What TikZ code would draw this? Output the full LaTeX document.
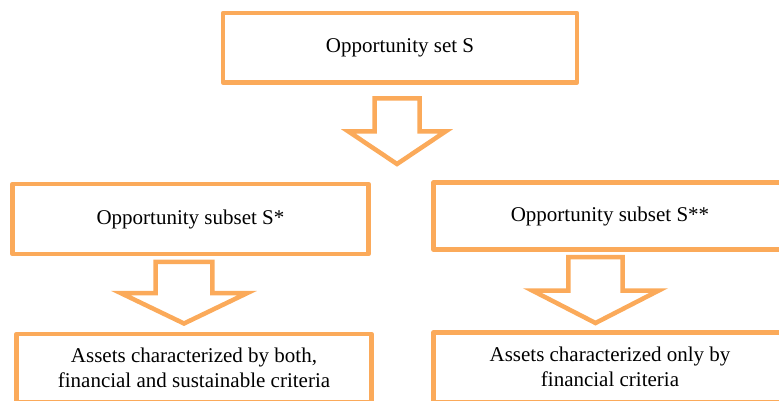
\documentclass[tikz,border=0pt]{standalone}
\usepackage{fontspec}
\setmainfont{Liberation Serif}
\usepackage{tikz}
\definecolor{boxorange}{RGB}{251,170,90}
\tikzset{setbox/.style={draw=boxorange, line width=4.5pt, line join=round, fill=white,
    inner sep=0pt, align=center, font=\fontsize{21}{25}\selectfont},
  blockarrow/.style={draw=boxorange, line width=4.5pt, line join=miter, fill=white}}
\newcommand{\downblock}[6]{%
  \draw[blockarrow] (#1-#2,#4) -- (#1+#2,#4) -- (#1+#2,#5) -- (#1+#3,#5)
    -- (#1,#6) -- (#1-#3,#5) -- (#1-#2,#5) -- cycle;}

\begin{document}
\begin{tikzpicture}[x=1pt, y=-1pt]
			\useasboundingbox (0,0) rectangle (779,401);
			\clip (0,0) rectangle (779,401);
				\node (S) 		[setbox, minimum width=354pt, minimum height=69.5pt] at (400,47.75)	{Opportunity set S};
				\node (Sa) 		[setbox, minimum width=356pt, minimum height=70pt] at (190.5,219)	{Opportunity subset S*};
				\node (Sb) 		[setbox, minimum width=353pt, minimum height=67pt] at (610,216.2)	{Opportunity subset S**};
				\node (Aa) 		[setbox, minimum width=355pt, minimum height=68pt] at (194,368)	{Assets characterized by both,\\ financial and sustainable criteria};
				\node (Ab) 		[setbox, minimum width=353pt, minimum height=69.5pt] at (610,367.3)	{Assets characterized only by\\ financial criteria};
			  \downblock{397}{22.5}{48.5}{98.5}{131.5}{164}
			  \downblock{184}{28.3}{63}{261.8}{293.2}{323.5}
			  \downblock{595.5}{27.2}{63.3}{257.2}{290.5}{323}
			\end{tikzpicture}
\end{document}
